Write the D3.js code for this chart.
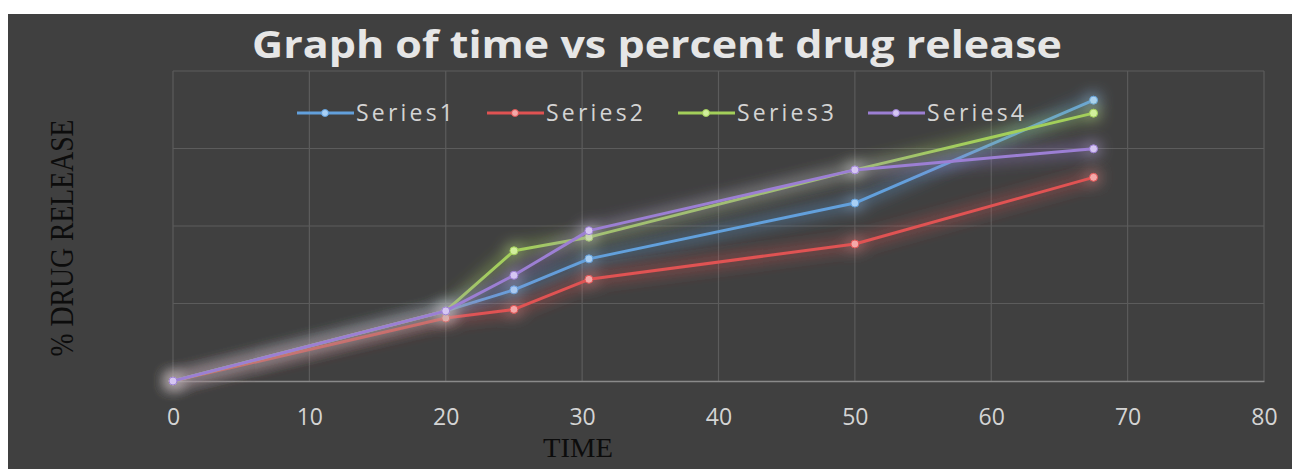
<!DOCTYPE html>
<html>
<head>
<meta charset="utf-8">
<script src="https://cdn.jsdelivr.net/npm/d3@7"></script>
<style>
  html, body { margin: 0; padding: 0; background: #ffffff; }
  svg { display: block; }
</style>
</head>
<body>
<svg id="chart" width="1292" height="469"></svg>
<script>
// Sampling times (minutes)
const times = [0, 20, 25, 30.5, 50, 67.5];

// Cumulative % drug release per formulation
const series1 = [0, 22.6, 29.4, 39.4, 57.4, 90.6];
const series2 = [0, 20.3, 23.1, 32.8, 44.2, 65.7];
const series3 = [0, 22.6, 42.0, 46.4, 68.1, 86.4];
const series4 = [0, 22.6, 34.1, 48.5, 68.1, 74.9];

const seriesNames = ["Series1", "Series2", "Series3", "Series4"];
const seriesColors = ["#62a0dc", "#e05252", "#a3cf5a", "#9c7fd4"];
const markerColors = ["#a9d0f5", "#f4a8a8", "#d2ef9c", "#d5c6f2"];

const xTicks = [0, 10, 20, 30, 40, 50, 60, 70, 80];
const yGrid = [0, 25, 50, 75, 100];

const allSeries = [series1, series2, series3, series4];

const svg = d3.select("#chart");
const W = 1292, H = 469;

// dark chart panel
svg.append("rect").attr("x", 8).attr("y", 14).attr("width", W - 8).attr("height", H - 14)
  .attr("fill", "#404040");

const plot = { left: 173, right: 1264, top: 71, bottom: 381 };

const x = d3.scaleLinear().domain([0, 80]).range([plot.left, plot.right]);
const y = d3.scaleLinear().domain([0, 100]).range([plot.bottom, plot.top]);

// soft coloured glow around the series lines
const defs = svg.append("defs");
const glow = defs.append("filter").attr("id", "glow")
  .attr("x", "-20%").attr("y", "-50%").attr("width", "140%").attr("height", "200%");
glow.append("feGaussianBlur").attr("in", "SourceGraphic").attr("stdDeviation", 8).attr("result", "blur");
glow.append("feComponentTransfer").attr("in", "blur").attr("result", "blurStrong")
  .append("feFuncA").attr("type", "linear").attr("slope", 1.6);
const merge = glow.append("feMerge");
merge.append("feMergeNode").attr("in", "blurStrong");
merge.append("feMergeNode").attr("in", "SourceGraphic");

// gridlines
const grid = svg.append("g");
grid.selectAll("line.h").data(yGrid.filter(d => d > 0)).join("line")
  .attr("x1", plot.left).attr("x2", plot.right)
  .attr("y1", d => y(d)).attr("y2", d => y(d))
  .attr("stroke", "#5c5c5c").attr("stroke-width", 1.2);
grid.selectAll("line.v").data(xTicks).join("line")
  .attr("x1", d => x(d)).attr("x2", d => x(d))
  .attr("y1", plot.top).attr("y2", plot.bottom)
  .attr("stroke", "#5c5c5c").attr("stroke-width", 1.2);

// x axis
const xAxis = svg.append("g")
  .attr("transform", `translate(0,${plot.bottom})`)
  .call(d3.axisBottom(x).tickValues(xTicks).tickSize(0).tickPadding(28));
xAxis.select(".domain").attr("stroke", "#8a8a8a").attr("stroke-width", 1.5);
xAxis.selectAll("text")
  .attr("fill", "#d4d4d4")
  .style("font-family", "'Open Sans', 'Noto Sans', sans-serif")
  .style("font-size", "23px");

// title
svg.append("text")
  .attr("x", 657).attr("y", 58)
  .attr("text-anchor", "middle")
  .attr("fill", "#e6e6e6")
  .style("font-family", "'Open Sans', 'Noto Sans', sans-serif")
  .style("font-weight", "bold")
  .style("font-size", "38px")
  .attr("textLength", 810).attr("lengthAdjust", "spacingAndGlyphs")
  .text("Graph of time vs percent drug release");

// axis titles
svg.append("text")
  .attr("transform", "translate(73,238) rotate(-90)")
  .attr("text-anchor", "middle")
  .attr("fill", "#0c0c0c")
  .style("font-family", "'Liberation Serif', 'DejaVu Serif', serif")
  .style("font-size", "34px")
  .attr("textLength", 237).attr("lengthAdjust", "spacingAndGlyphs")
  .text("% DRUG RELEASE");

svg.append("text")
  .attr("x", 578).attr("y", 457)
  .attr("text-anchor", "middle")
  .attr("fill", "#0c0c0c")
  .style("font-family", "'Liberation Serif', 'DejaVu Serif', serif")
  .style("font-size", "27px")
  .attr("textLength", 70).attr("lengthAdjust", "spacingAndGlyphs")
  .text("TIME");

// series lines
const line = d3.line().x((d, i) => x(times[i])).y(d => y(d));
const lines = svg.append("g");
allSeries.forEach((vals, k) => {
  const g = lines.append("g").attr("filter", "url(#glow)");
  g.append("path").datum(vals)
    .attr("d", line)
    .attr("fill", "none")
    .attr("stroke", seriesColors[k])
    .attr("stroke-width", 3)
    .attr("stroke-linejoin", "round");
  g.selectAll("circle").data(vals).join("circle")
    .attr("cx", (d, i) => x(times[i]))
    .attr("cy", d => y(d))
    .attr("r", 4)
    .attr("fill", markerColors[k])
    .attr("stroke", seriesColors[k])
    .attr("stroke-width", 1);
});

// legend
const legendX = [297, 487, 678, 868];
const legend = svg.append("g");
seriesNames.forEach((name, k) => {
  const lx = legendX[k], ly = 113;
  const g = legend.append("g");
  g.append("line")
    .attr("x1", lx).attr("x2", lx + 57).attr("y1", ly).attr("y2", ly)
    .attr("stroke", seriesColors[k]).attr("stroke-width", 3);
  g.append("circle")
    .attr("cx", lx + 28).attr("cy", ly).attr("r", 3.5)
    .attr("fill", markerColors[k]).attr("stroke", seriesColors[k]);
  g.append("text")
    .attr("x", lx + 59).attr("y", ly + 8)
    .attr("fill", "#d4d4d4")
    .style("font-family", "'Open Sans', 'Noto Sans', sans-serif")
    .style("font-size", "23px")
    .attr("textLength", 97).attr("lengthAdjust", "spacing")
    .text(name);
});
</script>
</body>
</html>
